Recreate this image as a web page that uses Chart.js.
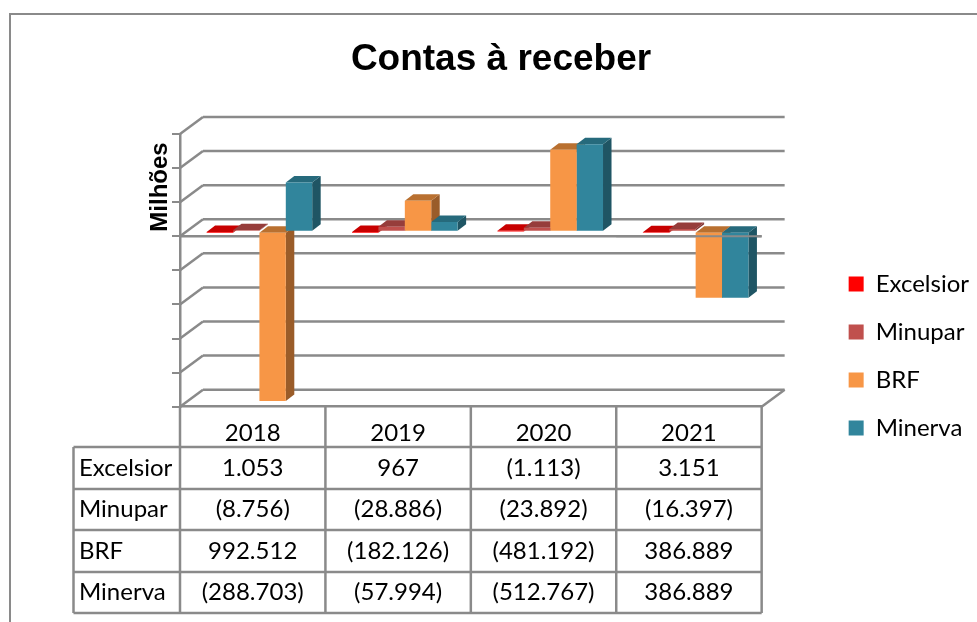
<!DOCTYPE html>
<html>
<head>
<meta charset="utf-8">
<style>
  html, body { margin: 0; padding: 0; background: #fff; overflow: hidden; }
  #wrap { width: 977px; height: 622px; }
</style>
<script src="https://cdn.jsdelivr.net/npm/chart.js@4"></script>
</head>
<body>
<div id="wrap"><canvas id="chart" width="977" height="622"></canvas></div>
<script>
const years = ['2018', '2019', '2020', '2021'];
const seriesNames = ['Excelsior', 'Minupar', 'BRF', 'Minerva'];
const excelsior = [1.053, 0.967, -1.113, 3.151];
const minupar = [-8.756, -28.886, -23.892, -16.397];
const brf = [992.512, -182.126, -481.192, 386.889];
const minerva = [-288.703, -57.994, -512.767, 386.889];

// texto da tabela, como aparece na imagem
const excelsiorLabels = ['1.053', '967', '(1.113)', '3.151'];
const minuparLabels = ['(8.756)', '(28.886)', '(23.892)', '(16.397)'];
const brfLabels = ['992.512', '(182.126)', '(481.192)', '386.889'];
const minervaLabels = ['(288.703)', '(57.994)', '(512.767)', '386.889'];
const tableRows = [excelsiorLabels, minuparLabels, brfLabels, minervaLabels];

const frontColors = ['#ff0000', '#c0504d', '#f79646', '#31859c'];
const topColors = ['#c80000', '#963d3b', '#b97030', '#266a7c'];
const sideColors = ['#a80000', '#7e3230', '#9a5c29', '#1f5564'];

const GREY = '#8a8a8a';
const TEXT_FONT = 'Lato, Carlito, sans-serif';
const TEXT_SIZE = 24;
const WALL_DX = 23, WALL_DY = 17;   // profundidade da parede do fundo
const BAR_DX = 6.7, BAR_DY = 4.5;   // barra fica no meio da profundidade
const DEPTH_DX = 8.5, DEPTH_DY = 6.5;
const ROW_Y = [447, 489, 530, 572, 613];
const TABLE_LEFT = 73.5;

function line(ctx, x1, y1, x2, y2) {
    ctx.beginPath();
    ctx.moveTo(x1, y1);
    ctx.lineTo(x2, y2);
    ctx.stroke();
}

function poly(ctx, pts, color) {
    ctx.fillStyle = color;
    ctx.beginPath();
    pts.forEach((p, i) => i ? ctx.lineTo(p[0], p[1]) : ctx.moveTo(p[0], p[1]));
    ctx.closePath();
    ctx.fill();
}

// moldura, parede do fundo e faces laterais das barras
const box3d = {
    id: 'box3d',
    beforeDraw(chart) {
        const ctx = chart.ctx;
        ctx.save();
        ctx.strokeStyle = GREY;
        ctx.lineWidth = 2;
        ctx.beginPath();
        ctx.moveTo(10, 640);
        ctx.lineTo(10, 14);
        ctx.lineTo(990, 14);
        ctx.stroke();
        ctx.restore();
    },
    beforeDatasetsDraw(chart) {
        const ctx = chart.ctx;
        const { left, right } = chart.chartArea;
        const y = chart.scales.y;
        const zero = y.getPixelForValue(0);
        ctx.save();
        ctx.strokeStyle = GREY;
        ctx.lineWidth = 2.5;
        y.ticks.forEach(t => {
            const py = y.getPixelForValue(t.value);
            line(ctx, left, py, left + WALL_DX, py - WALL_DY);
            line(ctx, left + WALL_DX, py - WALL_DY, right + WALL_DX, py - WALL_DY);
        });
        line(ctx, right, chart.chartArea.bottom, right + WALL_DX, chart.chartArea.bottom - WALL_DY);
        line(ctx, left, zero, right, zero);
        ctx.restore();

        // as barras ficam deslocadas ate o meio da profundidade
        ctx.save();
        ctx.translate(BAR_DX, -BAR_DY);
        chart.data.datasets.forEach((ds, i) => {
            chart.getDatasetMeta(i).data.forEach(bar => {
                const { x, y: vy, base, width } = bar.getProps(['x', 'y', 'base', 'width'], true);
                const x2 = x + width / 2;
                const x1 = x - width / 2;
                const top = Math.min(vy, base);
                const bottom = Math.max(vy, base);
                poly(ctx, [[x2, top], [x2 + DEPTH_DX, top - DEPTH_DY], [x2 + DEPTH_DX, bottom - DEPTH_DY], [x2, bottom]], sideColors[i]);
                poly(ctx, [[x1, top], [x1 + DEPTH_DX, top - DEPTH_DY], [x2 + DEPTH_DX, top - DEPTH_DY], [x2, top]], topColors[i]);
            });
        });
    },
    afterDatasetsDraw(chart) {
        const ctx = chart.ctx;
        ctx.restore();
        const { left, right } = chart.chartArea;
        const zero = chart.scales.y.getPixelForValue(0);
        const colWidth = (right - left) / years.length;
        // na referencia a linha do zero so passa por cima das barras de 2021
        ctx.save();
        ctx.strokeStyle = GREY;
        ctx.lineWidth = 2;
        line(ctx, right - colWidth, zero, right, zero);
        ctx.restore();
    },
    afterDraw(chart) {
        const ctx = chart.ctx;
        const x = chart.scales.x;
        const { left, right, bottom } = chart.chartArea;
        const colWidth = (right - left) / years.length;
        ctx.save();
        ctx.strokeStyle = GREY;
        ctx.lineWidth = 2.5;
        // tabela de dados
        ROW_Y.forEach(ry => line(ctx, TABLE_LEFT, ry, right, ry));
        line(ctx, TABLE_LEFT, ROW_Y[0], TABLE_LEFT, ROW_Y[4]);
        years.forEach((yr, i) => {
            line(ctx, x.getPixelForValue(i) - colWidth / 2, bottom, x.getPixelForValue(i) - colWidth / 2, ROW_Y[4]);
        });
        line(ctx, right, bottom, right, ROW_Y[4]);

        ctx.fillStyle = '#000';
        ctx.font = TEXT_SIZE + 'px ' + TEXT_FONT;
        ctx.textBaseline = 'middle';
        seriesNames.forEach((name, r) => {
            const cy = (ROW_Y[r] + ROW_Y[r + 1]) / 2;
            ctx.textAlign = 'left';
            ctx.fillText(name, 79, cy);
            ctx.textAlign = 'center';
            tableRows[r].forEach((txt, c) => ctx.fillText(txt, x.getPixelForValue(c), cy));
        });

        // titulo do eixo, fica na parte de cima, nao no centro
        ctx.translate(160.5, 187);
        ctx.rotate(-Math.PI / 2);
        ctx.font = 'bold 24px "Liberation Sans", Arial, sans-serif';
        ctx.fillText('Milhões', 0, 0);
        ctx.restore();
    }
};

const seriesValues = [excelsior, minupar, brf, minerva];

new Chart(document.getElementById('chart'), {
    type: 'bar',
    data: {
        labels: years,
        datasets: seriesNames.map((name, i) => ({
            label: name,
            data: seriesValues[i],
            backgroundColor: frontColors[i],
            borderWidth: 0,
            barPercentage: 1,
            categoryPercentage: 0.726
        }))
    },
    options: {
        responsive: false,
        animation: false,
        layout: { padding: { left: 23, right: -2, top: 0, bottom: 158 } },
        plugins: {
            title: {
                display: true,
                text: 'Contas à receber',
                color: '#000',
                font: { family: '"Liberation Sans", Arial, sans-serif', size: 37, weight: 'bold' },
                padding: { top: 37.8, bottom: 51.8 }
            },
            legend: {
                position: 'right',
                align: 'end',
                labels: {
                    color: '#000',
                    boxWidth: 15,
                    boxHeight: 15,
                    padding: 24,
                    font: { family: TEXT_FONT, size: TEXT_SIZE }
                }
            },
            tooltip: { enabled: false }
        },
        scales: {
            x: {
                grid: { display: false },
                border: { display: true, color: GREY, width: 2.5 },
                ticks: { color: '#000', padding: 4, font: { family: TEXT_FONT, size: TEXT_SIZE }, maxRotation: 0 },
                afterFit: s => { s.height = 57.3; }
            },
            y: {
                reverse: true,
                min: -600,
                max: 1000,
                grid: { drawOnChartArea: false, drawTicks: true, tickLength: 8, color: GREY, lineWidth: 2 },
                border: { display: true, color: GREY, width: 2.5 },
                ticks: { display: false, stepSize: 200 },
                afterFit: s => { s.width = 157; }
            },
            // so reserva o espaco entre o grafico e a legenda
            gap: {
                position: 'right',
                grid: { display: false },
                border: { display: false },
                ticks: { display: false },
                afterFit: s => { s.width = 63; }
            }
        }
    },
    plugins: [box3d]
});
</script>
</body>
</html>
